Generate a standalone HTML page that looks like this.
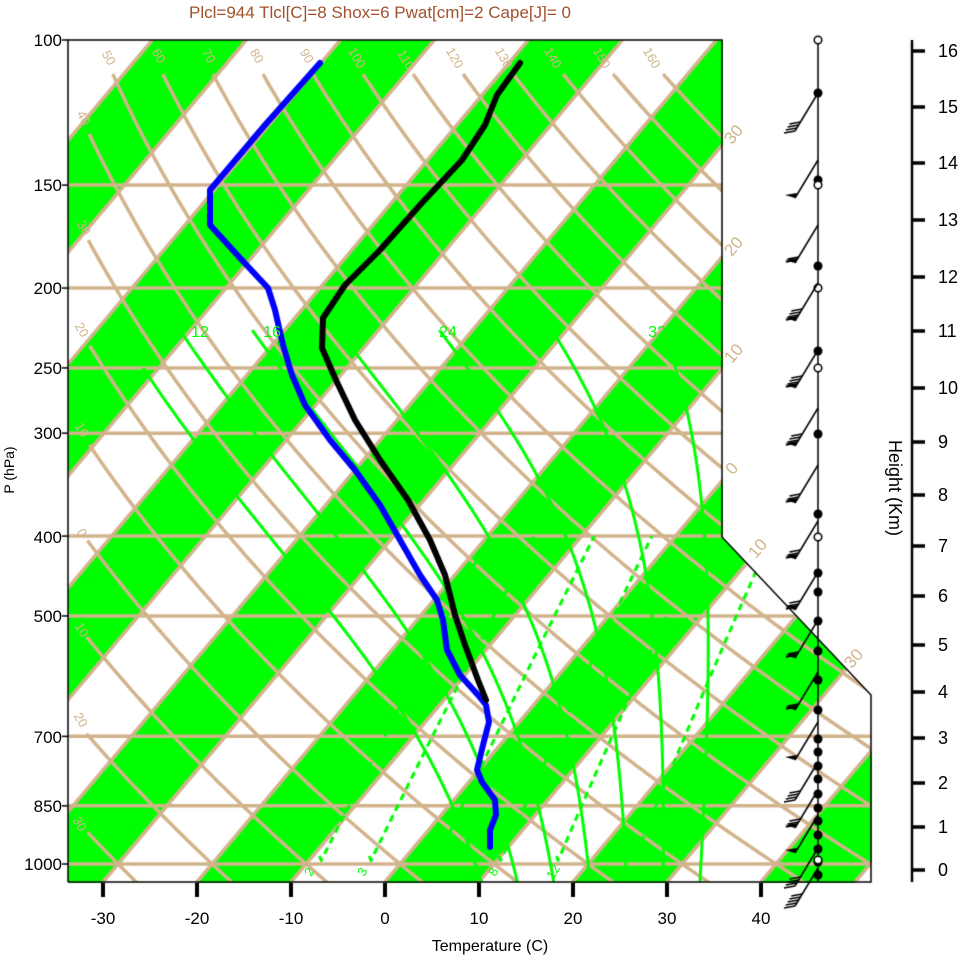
<!DOCTYPE html>
<html><head><meta charset="utf-8">
<style>
html,body{margin:0;padding:0;background:#fff;}
#wrap{position:relative;width:961px;height:957px;overflow:hidden;}
canvas,svg{position:absolute;left:0;top:0;}
text{font-family:"Liberation Sans",sans-serif;}
</style></head><body>
<div id="wrap">
<canvas id="c" width="961" height="957"></canvas>
<svg id="s" width="961" height="957" xmlns="http://www.w3.org/2000/svg">
<text x="380" y="18" font-size="17" fill="#a0522d" text-anchor="middle">Plcl=944 Tlcl[C]=8 Shox=6 Pwat[cm]=2 Cape[J]= 0</text>
<g font-size="17" fill="#000" text-anchor="end">
<text x="62" y="46">100</text><text x="62" y="191">150</text><text x="62" y="294">200</text>
<text x="62" y="374">250</text><text x="62" y="439">300</text><text x="62" y="543">400</text>
<text x="62" y="622">500</text><text x="62" y="743">700</text><text x="62" y="812">850</text>
<text x="62" y="870">1000</text></g>
<text transform="translate(14,470) rotate(-90)" font-size="14" text-anchor="middle">P (hPa)</text>
<g font-size="17" text-anchor="middle">
<text x="103" y="924">-30</text><text x="197" y="924">-20</text><text x="291" y="924">-10</text>
<text x="385" y="924">0</text><text x="479" y="924">10</text><text x="573" y="924">20</text>
<text x="667" y="924">30</text><text x="761" y="924">40</text></g>
<text x="490" y="951" font-size="16" text-anchor="middle">Temperature (C)</text>
<text transform="translate(889,488) rotate(90)" font-size="18" text-anchor="middle">Height (Km)</text>
<g font-size="18" id="hl"></g>
<g id="lab"></g>
</svg>
</div>
<script>
(function(){
var W=961,H=957;
var cv=document.getElementById('c'),ctx=cv.getContext('2d');
function yP(p){return 40+824*Math.log10(p/100);}
function xT(T,y){return 385+9.4*T+0.84*(882-y);}
function inside(x,y){
 if(x<68||x>871||y<40||y>882)return false;
 if(x>722&&y<537+(x-722)*(158/149))return false;
 return true;}
var img=ctx.createImageData(W,H),d=img.data;
for(var y=0;y<H;y++){for(var x=0;x<W;x++){var i=(y*W+x)*4;
 d[i]=255;d[i+1]=255;d[i+2]=255;d[i+3]=255;
 if(inside(x,y)){var T=(x-385-0.84*(882-y))/9.4;
  var s=Math.floor(T/10);
  if(((s%2)+2)%2==0){d[i]=0;d[i+1]=255;d[i+2]=0;}}}}
ctx.putImageData(img,0,0);
ctx.save();ctx.beginPath();ctx.moveTo(68,40);ctx.lineTo(722,40);ctx.lineTo(722,537);ctx.lineTo(871,695);ctx.lineTo(871,882);ctx.lineTo(68,882);ctx.closePath();ctx.clip();
var TAN='#d2b48c';
ctx.lineCap='butt';ctx.lineJoin='round';
ctx.strokeStyle=TAN;ctx.lineWidth=3.5;
for(var T=-170;T<=60;T+=10){ctx.beginPath();ctx.moveTo(xT(T,882),882);ctx.lineTo(xT(T,40),40);ctx.stroke();}
for(var th=-30;th<=160;th+=10){ctx.beginPath();var st=false;
 for(var p=110;p<=1060;p+=5){var T=(th+273.15)*Math.pow(p/1000,0.2857)-273.15;var y=yP(p),x=xT(T,y);
  if(x<86){st=false;continue;}
  if(!st){ctx.moveTo(x,y);st=true;}else ctx.lineTo(x,y);}
 ctx.stroke();}
[150,200,250,300,400,500,700,850,1000].forEach(function(p){var y=yP(p);ctx.beginPath();ctx.moveTo(68,y);ctx.lineTo(871,y);ctx.stroke();});
function es(Tc){return 6.112*Math.exp(17.67*Tc/(Tc+243.5));}
function dTdp(p,T){var e=es(T-273.15);var rs=0.622*e/(p-e);var Rd=287,cp=1005,L=2.5e6;
 return (1/p)*(Rd*T+L*rs)/(cp+L*L*rs*0.622/(Rd*T*T));}
function moist(tw,ptop){var T=tw+273.15,p=1000;var up=[];
 while(p>ptop){up.push([p,T]);var k1=dTdp(p,T);var k2=dTdp(p-2.5,T-2.5*k1);T-=5*k2;p-=5;}
 up.push([p,T]);var dn=[];T=tw+273.15;p=1000;
 while(p<1060){var k1=dTdp(p,T);var k2=dTdp(p+2.5,T+2.5*k1);T+=5*k2;p+=5;dn.push([p,T]);}
 return dn.reverse().concat(up);}
ctx.strokeStyle='#00ff00';ctx.lineWidth=3;
[8,12,16,20,24,28,32].forEach(function(tw){var a=moist(tw,tw==8?250:228);ctx.beginPath();
 a.forEach(function(q,i){var y=yP(q[0]),x=xT(q[1]-273.15,y);if(i==0)ctx.moveTo(x,y);else ctx.lineTo(x,y);});ctx.stroke();});
function tdw(w,p){var e=w*p/(622+w);var l=Math.log(e/6.112);return 243.5*l/(17.67-l);}
ctx.setLineDash([7,5]);
[2,3,5,8,12,20].forEach(function(w){ctx.beginPath();for(var p=1000;p>=400;p-=10){var y=yP(p),x=xT(tdw(w,p),y);if(p==1000)ctx.moveTo(x,y-8);else ctx.lineTo(x,y);}ctx.stroke();});
ctx.setLineDash([]);
ctx.restore();
ctx.strokeStyle='#000';ctx.lineWidth=1.5;ctx.beginPath();ctx.moveTo(68,882);ctx.lineTo(68,40);ctx.lineTo(722,40);ctx.lineTo(722,537);ctx.lineTo(871,695);ctx.lineTo(871,882);ctx.lineTo(68,882);ctx.stroke();
[100,150,200,250,300,400,500,700,850,1000].forEach(function(p){var y=yP(p);ctx.beginPath();ctx.moveTo(62,y);ctx.lineTo(68,y);ctx.stroke();});
ctx.lineWidth=4;for(var t=-30;t<=40;t+=10){var x=385+9.4*t;ctx.beginPath();ctx.moveTo(x,883);ctx.lineTo(x,897);ctx.stroke();}
function poly(pts,col,w){ctx.strokeStyle=col;ctx.lineWidth=w;ctx.lineJoin='round';ctx.lineCap='round';ctx.beginPath();pts.forEach(function(q,i){if(i==0)ctx.moveTo(q[0],q[1]);else ctx.lineTo(q[0],q[1]);});ctx.stroke();}
poly([[320,63],[265,125],[210,190],[210,225],[240,258],[268,288],[275,310],[283,345],[292,375],[305,405],[330,440],[355,470],[380,505],[400,540],[420,575],[437,600],[443,620],[447,650],[460,675],[478,695],[486,705],[489,722],[483,745],[477,770],[482,782],[495,800],[496,815],[490,830],[490,847]],'#0000ff',6);
poly([[520,63],[497,95],[485,125],[462,160],[420,205],[380,250],[345,285],[323,318],[322,348],[335,378],[355,420],[380,460],[408,500],[430,540],[445,575],[455,615],[465,645],[478,680],[486,700]],'#000',6);
ctx.strokeStyle='#000';ctx.lineWidth=1.5;ctx.lineCap='butt';ctx.beginPath();ctx.moveTo(818,40);ctx.lineTo(818,882);ctx.stroke();
var filled=[93,180,266,351,434,514,573,592,621,651,680,710,739,752,766,779,794,808,821,835,849,862,875];
filled.forEach(function(y){ctx.fillStyle='#000';ctx.beginPath();ctx.arc(818,y,4.5,0,7);ctx.fill();});
[40,185,288,368,537,860].forEach(function(y){ctx.fillStyle='#fff';ctx.beginPath();ctx.arc(818,y,3.8,0,7);ctx.fill();ctx.stroke();});
var barbs=[[93,0,4],[160,1,0],[225,1,2],[283,1,4],[350,1,4],[408,1,4],[465,1,3],[521,1,3],[572,1,3],[620,1,2],[672,1,2],[722,1,0],[762,0,4],[790,1,3],[815,1,0],[848,0,4],[868,0,5]];
barbs.forEach(function(b){var y=b[0];var x2=795,y2=y+38;ctx.lineWidth=1.5;ctx.beginPath();ctx.moveTo(818,y);ctx.lineTo(x2,y2);ctx.stroke();
 if(b[1]){ctx.beginPath();ctx.moveTo(x2,y2);ctx.lineTo(x2-10,y2-3);ctx.lineTo(x2+2,y2-5);ctx.closePath();ctx.fillStyle='#000';ctx.fill();}
 for(var k=0;k<b[2];k++){var f=(b[1]?3:0)+k*3;var fx=x2+f*23/38,fy=y2-f;ctx.beginPath();ctx.moveTo(fx,fy);ctx.lineTo(fx-11,fy+2);ctx.stroke();}});
ctx.lineWidth=2.5;ctx.beginPath();ctx.moveTo(912,40);ctx.lineTo(912,882);ctx.stroke();
var hy=[870,827,783,738,692,645,596,546,495,442,388,331,277,220,163,107,51];
var hl=document.getElementById('hl'),s='';
ctx.lineWidth=3.5;hy.forEach(function(y,i){ctx.beginPath();ctx.moveTo(912,y);ctx.lineTo(925,y);ctx.stroke();s+='<text x="938" y="'+(y+6)+'">'+i+'</text>';});
hl.innerHTML=s;
var L='';
var top=[[50,105,60],[60,155,58],[70,205,58],[80,253,58],[90,303,58],[100,353,60],[110,402,62],[120,451,60],[130,500,60],[140,549,60],[150,598,60],[160,648,60]];
top.forEach(function(t){L+='<text transform="translate('+t[1]+','+t[2]+') rotate(60)" font-size="13" fill="'+TAN+'" text-anchor="middle">'+t[0]+'</text>';});
var lf=[[40,80,120],[30,80,230],[20,78,332],[10,78,432],[0,78,535],[10,78,632],[20,77,722],[30,76,826]];
lf.forEach(function(t){L+='<text transform="translate('+t[1]+','+t[2]+') rotate(60)" font-size="13" fill="'+TAN+'" text-anchor="middle">'+t[0]+'</text>';});
var rt=[[30,738,138],[20,738,250],[10,738,357],[0,736,472],[10,762,552],[30,858,662]];
rt.forEach(function(t){L+='<text transform="translate('+t[1]+','+t[2]+') rotate(-50)" font-size="17" fill="'+TAN+'" text-anchor="middle">'+t[0]+'</text>';});
[[12,200],[16,272],[24,448],[32,657]].forEach(function(t){L+='<text x="'+t[1]+'" y="337" font-size="16" fill="#00ff00" text-anchor="middle">'+t[0]+'</text>';});
[[2,313],[3,366],[8,497],[12,557]].forEach(function(t){L+='<text transform="translate('+t[1]+',874) rotate(-60)" font-size="13" fill="#00ff00" text-anchor="middle">'+t[0]+'</text>';});
document.getElementById('lab').innerHTML=L;
})();
</script>
</body></html>
